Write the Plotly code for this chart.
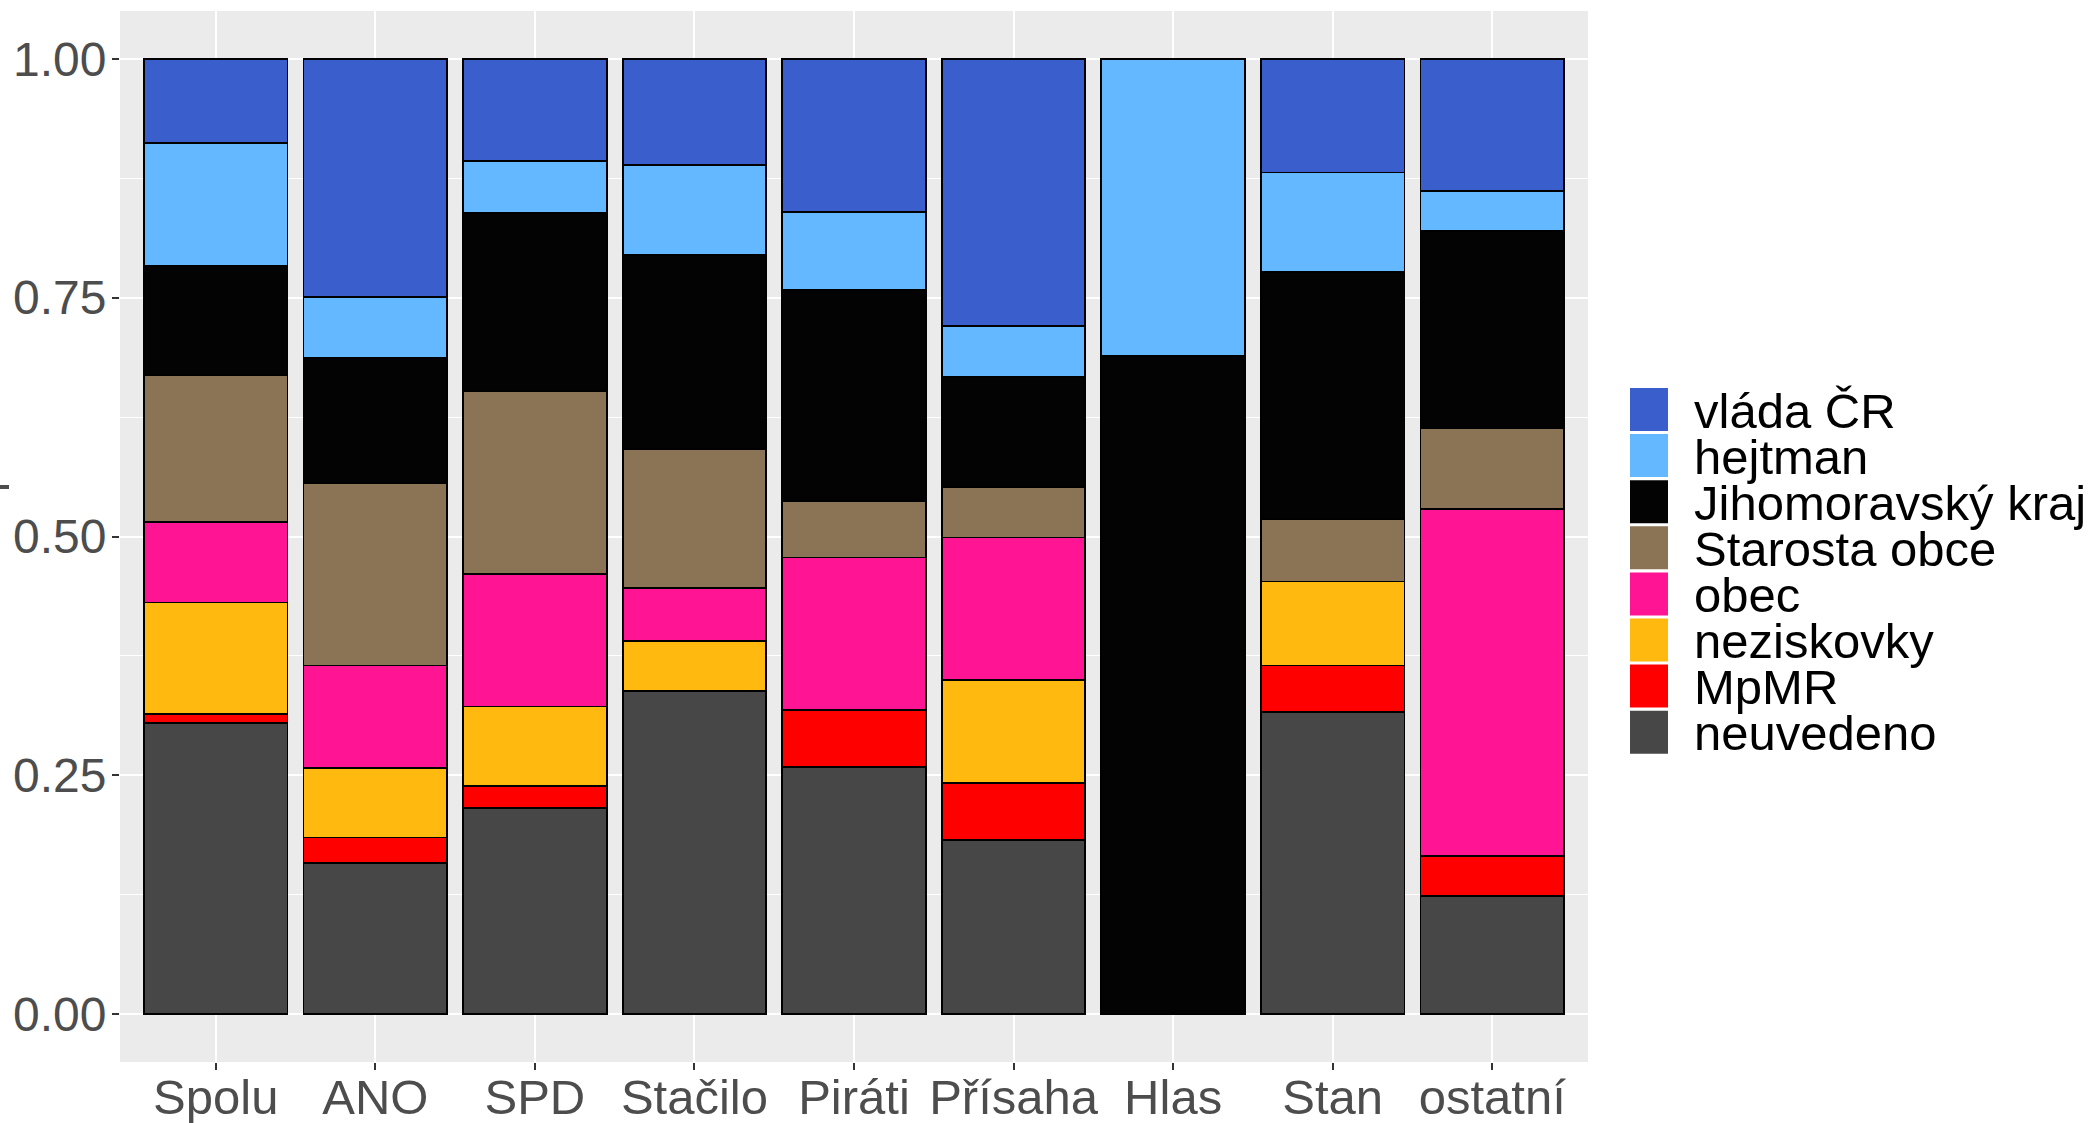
import plotly.graph_objects as go

# ---- data ----
parties = ["Spolu", "ANO", "SPD", "Stačilo", "Piráti", "Přísaha", "Hlas", "Stan", "ostatní"]

# stacked from bottom to top
neuvedeno         = [0.305, 0.158, 0.216, 0.338, 0.259, 0.182, 0.000, 0.316, 0.124]
MpMR              = [0.009, 0.027, 0.023, 0.000, 0.059, 0.060, 0.000, 0.049, 0.042]
neziskovky        = [0.117, 0.073, 0.083, 0.053, 0.000, 0.108, 0.000, 0.088, 0.000]
obec              = [0.084, 0.107, 0.139, 0.055, 0.160, 0.149, 0.000, 0.000, 0.363]
starosta_obce     = [0.154, 0.191, 0.191, 0.146, 0.059, 0.053, 0.000, 0.065, 0.084]
jihomoravsky_kraj = [0.114, 0.131, 0.187, 0.203, 0.221, 0.115, 0.689, 0.259, 0.207]
hejtman           = [0.129, 0.064, 0.054, 0.094, 0.082, 0.053, 0.311, 0.104, 0.042]
vlada_cr          = [0.088, 0.249, 0.107, 0.111, 0.160, 0.280, 0.000, 0.119, 0.138]

series_names = ["neuvedeno", "MpMR", "neziskovky", "obec", "Starosta obce",
                "Jihomoravský kraj", "hejtman", "vláda ČR"]
series_values = [neuvedeno, MpMR, neziskovky, obec, starosta_obce,
                 jihomoravsky_kraj, hejtman, vlada_cr]
series_colors = ["#474747", "#FF0000", "#FFB90F", "#FF1493", "#8B7355",
                 "#030303", "#63B8FF", "#3A5FCD"]

y_ticks = [0, 0.25, 0.5, 0.75, 1.0]
y_tick_labels = ["0.00", "0.25", "0.50", "0.75", "1.00"]

# ---- figure ----
W, H = 2089, 1123
ML, MR, MT, MB = 120, 501, 11, 61
FONT = "Liberation Sans, Arial, sans-serif"

fig = go.Figure()
for name, vals, col in zip(series_names, series_values, series_colors):
    fig.add_trace(go.Bar(
        x=parties, y=vals, name=name,
        marker=dict(color=col, line=dict(color="black", width=1.8)),
        width=0.9, showlegend=False,
    ))

fig.update_layout(
    width=W, height=H,
    margin=dict(l=ML, r=MR, t=MT, b=MB, pad=0, autoexpand=False),
    barmode="stack",
    paper_bgcolor="white",
    plot_bgcolor="#EBEBEB",
    font=dict(family=FONT, size=48, color="#4D4D4D"),
)

fig.update_xaxes(
    type="category", range=[-0.6, len(parties) - 0.4],
    automargin=False,
    showgrid=True, gridcolor="white", gridwidth=2.2,
    ticks="outside", ticklen=7, tickwidth=2, tickcolor="#333333",
    tickfont=dict(family=FONT, size=49, color="#4D4D4D"),
    ticklabelstandoff=-15,
    showline=False, zeroline=False,
)
fig.update_yaxes(
    range=[-0.05, 1.05],
    automargin=False,
    tickvals=y_ticks, ticktext=y_tick_labels,
    showgrid=True, gridcolor="white", gridwidth=2.2,
    minor=dict(tickvals=[0.125, 0.375, 0.625, 0.875], showgrid=True,
               gridcolor="white", gridwidth=1.1, ticks=""),
    ticks="outside", ticklen=7, tickwidth=2, tickcolor="#333333",
    tickfont=dict(family=FONT, size=48, color="#4D4D4D"),
    ticklabelstandoff=-4,
    showline=False, zeroline=False,
)

# ---- custom legend (ggplot style), top item = last series ----
pw = W - ML - MR
ph = H - MT - MB
def px_x(px):
    return (px - ML) / pw
def px_y(py):
    return (H - MB - py) / ph

key_x0, key_x1 = 1630, 1668
key_top0, key_pitch, key_h = 388, 46.1, 43
text_x = 1692
for i, (name, col) in enumerate(zip(reversed(series_names), reversed(series_colors))):
    top = key_top0 + i * key_pitch
    fig.add_shape(type="rect", xref="paper", yref="paper",
                  x0=px_x(key_x0), x1=px_x(key_x1),
                  y0=px_y(top + key_h), y1=px_y(top),
                  fillcolor=col, line=dict(width=0))
    fig.add_annotation(xref="paper", yref="paper",
                       x=px_x(text_x), y=px_y(top + key_h / 2 + 1),
                       text=name, showarrow=False,
                       xanchor="left", yanchor="middle",
                       font=dict(family=FONT, size=49, color="black"))

# small y-axis title remnant at the left edge
fig.add_shape(type="line", xref="paper", yref="paper",
              x0=px_x(0), x1=px_x(9), y0=px_y(487), y1=px_y(487),
              line=dict(color="#4D4D4D", width=4))

fig.write_html(
    "out.html",
    config={"displayModeBar": False},
    post_script="document.body.style.margin='0';document.body.style.overflow='hidden';",
)
